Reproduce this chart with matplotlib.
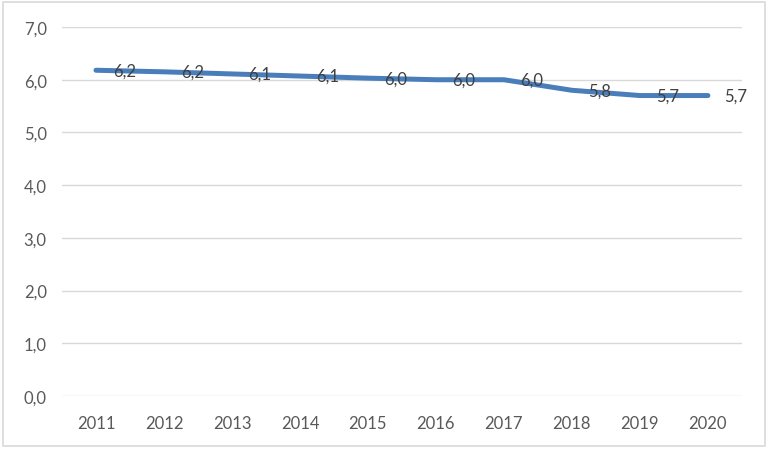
import matplotlib.pyplot as plt
import numpy as np
from matplotlib.patches import Rectangle

# data
years = ['2011', '2012', '2013', '2014', '2015', '2016', '2017', '2018', '2019', '2020']
values = [6.18, 6.15, 6.11, 6.07, 6.03, 6.00, 6.00, 5.80, 5.70, 5.70]
y_ticks = [0, 1, 2, 3, 4, 5, 6, 7]

txt_color = '#595959'
line_color = '#4A7EBB'
grid_color = '#D9D9D9'

plt.rcParams['font.family'] = ['Lato', 'DejaVu Sans']

fig = plt.figure(figsize=(7.68, 4.52), dpi=100)
ax = fig.add_axes([0.0807, 0.1217, 0.8853, 0.8163])

x = np.arange(len(years))
ax.plot(x, values, color=line_color, lw=3.6, solid_capstyle='round', solid_joinstyle='round', zorder=3)

# data labels to the right of each point
for xi, v in zip(x, values):
    ax.annotate(f'{v:.1f}'.replace('.', ','), (xi, v), xytext=(12, 0), textcoords='offset points',
                ha='left', va='center', fontsize=12, color='#404040', zorder=4)

ax.set_xlim(-0.5, len(years) - 0.5)
ax.set_ylim(0, 7)
ax.set_yticks(y_ticks)
ax.set_yticklabels([f'{t:.1f}'.replace('.', ',') for t in y_ticks])
ax.set_xticks(x)
ax.set_xticklabels(years)
ax.tick_params(axis='both', length=0, labelsize=12, colors=txt_color)
ax.tick_params(axis='y', pad=11)
ax.tick_params(axis='x', pad=14)
ax.grid(axis='y', color=grid_color, lw=1)
ax.set_axisbelow(True)
for s in ax.spines.values():
    s.set_visible(False)

# outer chart border
fig.patches.append(Rectangle((0.004, 0.011), 0.992, 0.982, transform=fig.transFigure,
                             fill=False, edgecolor=grid_color, lw=1.2))

fig.savefig('out.png', dpi=100)
